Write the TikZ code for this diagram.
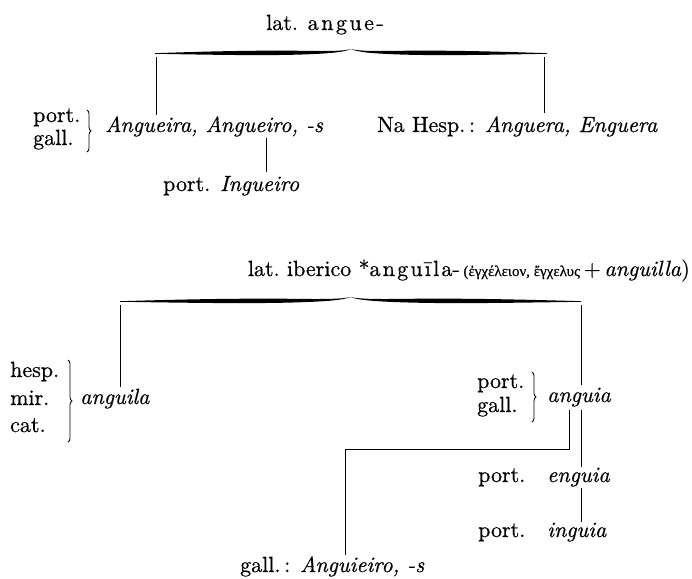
\documentclass[tikz,border=0pt]{standalone}
\usepackage{fontspec}
\setmainfont{lmroman10-regular.otf}[ItalicFont=lmroman10-italic.otf, BoldFont=lmroman10-bold.otf, FakeBold=0.6]
\newfontfamily\grk[Script=Greek, FakeBold=0.3]{Liberation Serif}
\usetikzlibrary{decorations.pathreplacing}
\tikzset{
  txt/.style={inner sep=0pt, font=\fontsize{22}{24}\selectfont},
  ln/.style={line width=0.8pt},
  pbrace/.style={line width=0.8pt, decorate, decoration={brace, amplitude=4pt}},
}
\newcommand\lsp{\kern2.5pt}
\newcommand\lspb{\kern2.2pt}
\newcommand\halfbr{%
  \fill (0,1.2) .. controls (0.25,-0.5) and (0.5,-1.8) .. (0.75,-1.2)
     .. controls (0.88,-0.8) and (0.96,-0.8) .. (1,-3)
     .. controls (0.97,0) and (0.9,1.5) .. (0.75,2.5)
     .. controls (0.55,3.8) and (0.3,2.8) .. (0,1.8) -- cycle;}
\newcommand\bigbrace[3]{%
  \begin{scope}[shift={(#1,#3)}, xscale={(#2-#1)/2}]\halfbr\end{scope}
  \begin{scope}[shift={(#2,#3)}, xscale={-(#2-#1)/2}]\halfbr\end{scope}}
\begin{document}
\begin{tikzpicture}[x=1pt,y=-1pt]
\useasboundingbox (0,0) rectangle (692,578);
% ---------- upper tree
\node[txt, anchor=base] (t1) at (325,30) {lat. a\lsp n\lsp g\lsp u\lsp e\lsp -};
\bigbrace{155}{547}{52}
\coordinate (t1l) at (156,57);
\coordinate (t1r) at (544,57);
\node[txt, anchor=base west] (pg1) at (33,122) {port.};
\node[txt, anchor=base west] (gl1) at (33,145) {gall.};
\draw[pbrace] (87,110) -- (87,152);
\node[txt, anchor=base west] (ang) at (105,132) {\textit{Angueira, Angueiro, -s}};
\node[txt, anchor=base west] (ing) at (163,191) {port. \textit{Ingueiro}};
\node[txt, anchor=base west] (hesp) at (377,132) {Na Hesp.\,: \textit{Anguera, Enguera}};
\coordinate (angT) at (156,115);
\coordinate (hespT) at (544,113);
\coordinate (angB) at (266,138);
\coordinate (ingT) at (266,172);
\draw[ln] (t1l) -- (angT);
\draw[ln] (t1r) -- (hespT);
\draw[ln] (angB) -- (ingT);
% ---------- lower tree
\node[txt, anchor=base east] (t2) at (690,276) {lat.\ iberico *a\lspb n\lspb g\lspb u\lspb ī\lspb l\lspb a-\,{\grk\fontsize{15}{16}\selectfont(ἐγχέλειον, ἔγχελυς}\,+\,\textit{anguilla})};
\bigbrace{120}{581}{300}
\coordinate (t2l) at (120,305);
\coordinate (t2r) at (581,305);
\node[txt, anchor=base west] (hs) at (10,377) {hesp.};
\node[txt, anchor=base west] (mr) at (10,405) {mir.};
\node[txt, anchor=base west] (ct) at (10,432) {cat.};
\draw[pbrace] (68,360) -- (68,442);
\node[txt, anchor=base west] (angl) at (80,404) {\textit{anguila}};
\coordinate (anglT) at (120,387);
\draw[ln] (t2l) -- (anglT);
\node[txt, anchor=base west] (pg2) at (477,388) {port.};
\node[txt, anchor=base west] (gl2) at (477,412) {gall.};
\draw[pbrace] (532,372) -- (532,422);
\node[txt, anchor=base west] (angia) at (547,402) {\textit{anguia}};
\coordinate (angiaT) at (581,385);
\draw[ln] (t2r) -- (angiaT);
\node[txt, anchor=base west] (pe) at (478,482) {port.};
\node[txt, anchor=base west] (eng) at (547,482) {\textit{enguia}};
\node[txt, anchor=base west] (pi) at (478,537) {port.};
\node[txt, anchor=base west] (ingu) at (547,537) {\textit{inguia}};
\node[txt, anchor=base west] (gall) at (240,572) {gall.\,: \textit{Anguieiro, -s}};
\coordinate (angiaB1) at (569,410);
\coordinate (angiaB2) at (581,410);
\coordinate (engT) at (581,467);
\coordinate (engB) at (581,488);
\coordinate (inguT) at (581,522);
\coordinate (gallT) at (345,555);
\draw[ln] (angiaB1) |- (gallT |- 0,449) -- (gallT);
\draw[ln] (angiaB2) -- (engT);
\draw[ln] (engB) -- (inguT);
\end{tikzpicture}
\end{document}
